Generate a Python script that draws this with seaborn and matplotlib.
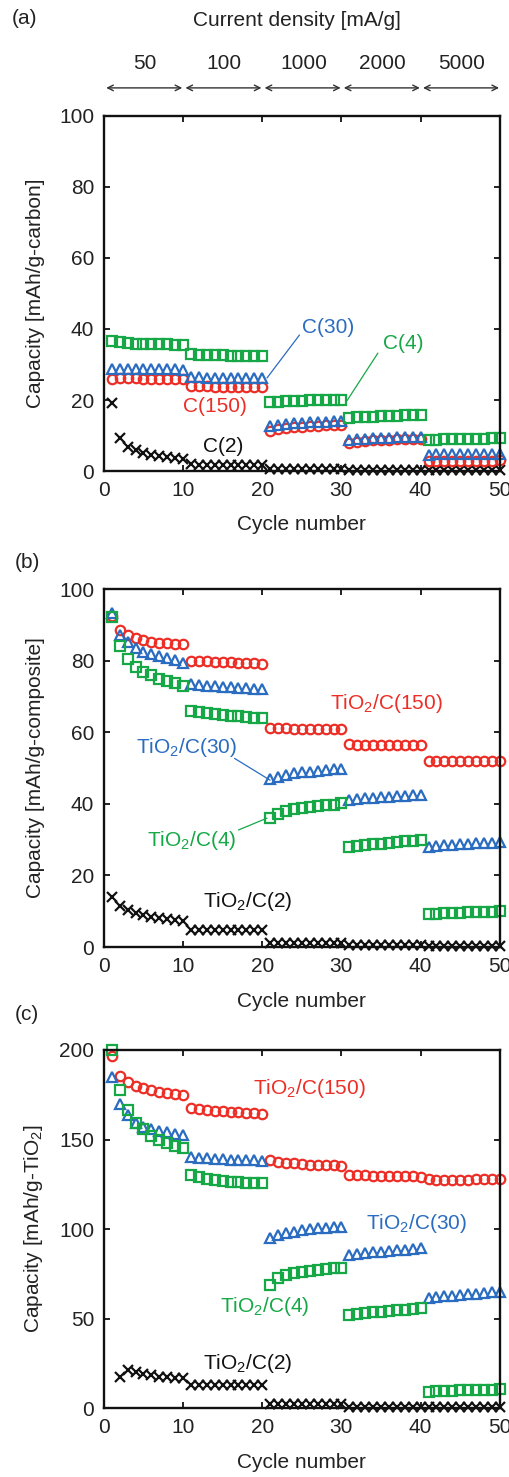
import numpy as np
import pandas as pd
import matplotlib
matplotlib.use("Agg")
import matplotlib.pyplot as plt
import seaborn as sns

# ------------------------------------------------------------
# data (capacity per cycle, cycles 1-50)
# ------------------------------------------------------------
cycles = list(range(1, 51))
rates = ["50", "100", "1000", "2000", "5000"]

# (a) mAh/g-carbon
a_c150 = [26.0, 26.1, 26.1, 26.1, 26.0, 26.0, 26.0, 26.0, 26.0, 26.0,
          24.0, 23.9, 23.9, 23.8, 23.8, 23.8, 23.8, 23.8, 23.8, 23.8,
          11.2, 11.8, 12.1, 12.3, 12.5, 12.6, 12.8, 12.9, 13.0, 13.1,
          8.0, 8.3, 8.5, 8.6, 8.7, 8.8, 8.9, 9.0, 9.0, 9.1,
          2.9, 2.9, 2.9, 2.9, 2.9, 2.9, 2.9, 2.9, 2.9, 3.0]
a_c30 = [28.6, 28.6, 28.6, 28.6, 28.6, 28.6, 28.6, 28.6, 28.6, 28.5,
         26.5, 26.4, 26.3, 26.3, 26.3, 26.2, 26.2, 26.2, 26.2, 26.2,
         12.7, 13.1, 13.3, 13.5, 13.6, 13.7, 13.8, 13.9, 14.0, 14.0,
         8.6, 8.9, 9.1, 9.2, 9.3, 9.4, 9.5, 9.6, 9.6, 9.7,
         4.6, 4.7, 4.7, 4.7, 4.8, 4.8, 4.8, 4.8, 4.8, 4.9]
a_c4 = [36.5, 36.2, 36.0, 35.9, 35.9, 35.8, 35.8, 35.7, 35.6, 35.5,
        33.0, 32.8, 32.7, 32.6, 32.6, 32.5, 32.5, 32.4, 32.4, 32.4,
        19.3, 19.5, 19.6, 19.7, 19.8, 19.9, 19.9, 20.0, 20.0, 20.1,
        14.9, 15.1, 15.2, 15.3, 15.4, 15.5, 15.6, 15.7, 15.8, 15.9,
        8.7, 8.8, 8.9, 8.9, 9.0, 9.0, 9.1, 9.1, 9.2, 9.3]
a_c2 = [19.2, 9.3, 6.8, 5.9, 5.2, 4.6, 4.3, 4.0, 3.7, 3.5,
        1.9, 1.8, 1.8, 1.7, 1.7, 1.7, 1.7, 1.7, 1.6, 1.6,
        0.6, 0.5, 0.5, 0.5, 0.5, 0.5, 0.5, 0.5, 0.5, 0.5,
        0.3, 0.3, 0.3, 0.3, 0.3, 0.3, 0.3, 0.3, 0.3, 0.3,
        0.3, 0.3, 0.3, 0.3, 0.3, 0.3, 0.3, 0.3, 0.3, 0.3]

# (b) mAh/g-composite
b_c150 = [92.5, 88.5, 87.2, 86.2, 85.8, 85.3, 85.0, 84.8, 84.7, 84.6,
          80.0, 79.9, 79.8, 79.7, 79.6, 79.5, 79.4, 79.3, 79.2, 79.1,
          61.2, 61.1, 61.1, 61.0, 61.0, 61.0, 60.9, 60.9, 60.9, 60.8,
          56.6, 56.5, 56.5, 56.5, 56.5, 56.5, 56.5, 56.5, 56.5, 56.5,
          52.0, 52.0, 52.0, 52.0, 52.0, 52.0, 52.0, 52.0, 52.0, 52.1]
b_c30 = [93.2, 87.2, 85.3, 83.4, 82.5, 81.8, 81.3, 80.6, 80.2, 79.4,
         73.5, 73.2, 73.0, 72.8, 72.6, 72.5, 72.4, 72.3, 72.2, 72.1,
         46.8, 47.6, 48.1, 48.5, 48.8, 49.0, 49.2, 49.4, 49.6, 49.7,
         41.1, 41.3, 41.5, 41.7, 41.8, 42.0, 42.1, 42.2, 42.4, 42.5,
         28.0, 28.2, 28.4, 28.5, 28.7, 28.8, 29.0, 29.1, 29.2, 29.4]
b_c4 = [92.1, 84.2, 80.4, 78.3, 76.9, 76.0, 75.0, 74.4, 73.7, 72.9,
        66.0, 65.6, 65.3, 65.0, 64.8, 64.6, 64.4, 64.2, 64.0, 63.9,
        36.1, 37.3, 38.0, 38.5, 38.8, 39.1, 39.4, 39.6, 39.8, 40.2,
        28.0, 28.3, 28.5, 28.7, 28.9, 29.1, 29.3, 29.5, 29.7, 29.9,
        9.2, 9.3, 9.4, 9.5, 9.6, 9.7, 9.8, 9.8, 9.9, 10.0]
b_c2 = [14.1, 11.5, 10.3, 9.6, 8.9, 8.3, 8.0, 7.7, 7.5, 7.2,
        4.9, 4.9, 4.8, 4.8, 4.8, 4.8, 4.8, 4.8, 4.8, 4.8,
        1.2, 1.1, 1.1, 1.0, 1.0, 1.0, 1.0, 1.0, 1.0, 1.0,
        0.5, 0.5, 0.5, 0.5, 0.5, 0.5, 0.5, 0.5, 0.5, 0.5,
        0.4, 0.4, 0.4, 0.4, 0.4, 0.4, 0.4, 0.4, 0.4, 0.4]

# (c) mAh/g-TiO2
c_c150 = [196.5, 185.5, 182.3, 179.9, 178.6, 177.7, 176.5, 175.8, 175.4, 175.0,
          167.4, 167.0, 166.6, 166.2, 165.8, 165.5, 165.2, 164.9, 164.6, 164.2,
          138.5, 137.5, 137.0, 136.6, 136.3, 136.0, 135.8, 135.6, 135.5, 135.4,
          130.2, 130.0, 129.9, 129.8, 129.7, 129.6, 129.5, 129.4, 129.4, 129.3,
          127.8, 127.4, 127.4, 127.4, 127.5, 127.6, 127.7, 127.8, 127.9, 128.0]
c_c30 = [184.7, 169.8, 163.7, 159.0, 157.2, 156.0, 155.0, 154.0, 153.0, 152.5,
         140.4, 139.8, 139.4, 139.1, 138.9, 138.7, 138.5, 138.4, 138.3, 138.2,
         94.8, 96.7, 97.8, 98.6, 99.3, 99.8, 100.3, 100.7, 101.0, 101.3,
         85.5, 86.0, 86.5, 87.0, 87.4, 87.8, 88.2, 88.5, 88.9, 89.2,
         61.3, 61.8, 62.3, 62.7, 63.1, 63.5, 63.9, 64.3, 64.7, 65.0]
c_c4 = [200.0, 177.7, 166.5, 159.4, 155.7, 152.0, 149.7, 148.2, 146.4, 145.0,
        130.2, 128.8, 127.9, 127.2, 126.7, 126.3, 126.0, 125.8, 125.6, 125.5,
        68.7, 72.4, 74.3, 75.6, 76.2, 76.8, 77.2, 77.6, 78.0, 78.2,
        52.0, 52.5, 53.0, 53.4, 53.8, 54.2, 54.6, 55.0, 55.3, 55.7,
        9.1, 9.4, 9.6, 9.7, 9.8, 9.9, 10.0, 10.1, 10.3, 10.4]
c_c2 = [np.nan, 17.5, 21.2, 20.0, 19.0, 18.2, 17.5, 17.2, 17.0, 16.5,
        12.8, 12.8, 12.7, 12.7, 12.7, 12.7, 12.7, 12.7, 12.7, 12.7,
        2.2, 2.1, 2.1, 2.0, 2.0, 2.0, 2.0, 2.0, 2.0, 2.0,
        0.8, 0.8, 0.8, 0.8, 0.8, 0.8, 0.8, 0.8, 0.8, 0.8,
        0.5, 0.5, 0.5, 0.5, 0.5, 0.5, 0.5, 0.5, 0.5, 0.5]

# ------------------------------------------------------------
# style
# ------------------------------------------------------------
sns.set_style("ticks")
plt.rcParams["font.family"] = ["Liberation Sans", "DejaVu Sans"]
plt.rcParams["mathtext.default"] = "regular"

RED = "#EC2E26"
BLUE = "#2A6CC0"
GREEN = "#16A847"
BLACK = "#111111"
TXT = "#222222"
FS = 15

# (color, marker, markersize) per series, drawn in this order
styles = {
    "c2": (BLACK, "x", 7.5),
    "c150": (RED, "o", 6.8),
    "c30": (BLUE, "^", 7.2),
    "c4": (GREEN, "s", 6.8),
}

fig = plt.figure(figsize=(5.09, 14.77), dpi=100)
L, W = 0.204, 0.778
ax_a = fig.add_axes([L, 0.6811, W, 0.2404])
ax_b = fig.add_axes([L, 0.3588, W, 0.2424])
ax_c = fig.add_axes([L, 0.0467, W, 0.2424])


def draw_series(ax, series):
    for key in ["c2", "c150", "c30", "c4"]:
        color, mk, ms = styles[key]
        df = pd.DataFrame({"cycle": cycles, "cap": series[key]}).dropna()
        face = color if mk == "x" else "none"
        sns.lineplot(data=df, x="cycle", y="cap", ax=ax, linestyle="",
                     marker=mk, markersize=ms, markeredgewidth=1.6,
                     color=color, markerfacecolor=face,
                     markeredgecolor=color)


def style_axes(ax, ymax, ystep, ylabel):
    ax.set_xlim(0, 50)
    ax.set_ylim(0, ymax)
    ax.set_xticks(range(0, 51, 10))
    ax.set_yticks(np.arange(0, ymax + 1, ystep))
    ax.tick_params(direction="in", top=True, right=True, length=4.5,
                   width=1.4, labelsize=FS, colors=TXT)
    ax.tick_params(axis="x", pad=7)
    ax.tick_params(axis="y", pad=7)
    for sp in ax.spines.values():
        sp.set_linewidth(1.7)
        sp.set_color("#111111")
    ax.set_xlabel("Cycle number", fontsize=FS, color=TXT)
    ax.set_ylabel(ylabel, fontsize=FS, color=TXT)
    ax.xaxis.set_label_coords(0.5, -0.125)
    ax.yaxis.set_label_coords(-0.148, 0.5)


# (a)
draw_series(ax_a, {"c150": a_c150, "c30": a_c30, "c4": a_c4, "c2": a_c2})
style_axes(ax_a, 100, 20, "Capacity [mAh/g-carbon]")
ax_a.text(28.3, 40.3, "C(30)", color=BLUE, fontsize=FS, ha="center", va="center")
ax_a.plot([20.6, 24.7], [26.2, 38.3], color=BLUE, lw=0.9)
ax_a.text(37.8, 36.0, "C(4)", color=GREEN, fontsize=FS, ha="center", va="center")
ax_a.plot([30.7, 34.6], [19.8, 33.2], color=GREEN, lw=0.9)
ax_a.text(14.0, 18.1, "C(150)", color=RED, fontsize=FS, ha="center", va="center")
ax_a.text(15.1, 6.9, "C(2)", color=BLACK, fontsize=FS, ha="center", va="center")

# current density arrows on top of (a)
trans = ax_a.get_xaxis_transform()
for i, r in enumerate(rates):
    ax_a.annotate("", xy=(10 * i + 9.9, 1.079), xytext=(10 * i + 0.3, 1.079),
                  xycoords=trans, textcoords=trans, annotation_clip=False,
                  arrowprops=dict(arrowstyle="<->", lw=1.0, color="#333333",
                                  shrinkA=0, shrinkB=0))
    ax_a.text(10 * i + 5.2, 1.149, r, transform=trans, ha="center",
              va="center", fontsize=FS, color=TXT)
ax_a.text(24.4, 1.27, "Current density [mA/g]", transform=trans, ha="center",
          va="center", fontsize=FS, color=TXT)

# (b)
draw_series(ax_b, {"c150": b_c150, "c30": b_c30, "c4": b_c4, "c2": b_c2})
style_axes(ax_b, 100, 20, "Capacity [mAh/g-composite]")
ax_b.text(35.7, 68.1, "TiO$_2$/C(150)", color=RED, fontsize=FS, ha="center", va="center")
ax_b.text(10.5, 55.6, "TiO$_2$/C(30)", color=BLUE, fontsize=FS, ha="center", va="center")
ax_b.plot([16.5, 21.0], [52.7, 46.6], color=BLUE, lw=0.9)
ax_b.text(11.1, 29.9, "TiO$_2$/C(4)", color=GREEN, fontsize=FS, ha="center", va="center")
ax_b.plot([17.0, 20.6], [32.7, 36.0], color=GREEN, lw=0.9)
ax_b.text(18.2, 12.7, "TiO$_2$/C(2)", color=BLACK, fontsize=FS, ha="center", va="center")

# (c)
draw_series(ax_c, {"c150": c_c150, "c30": c_c30, "c4": c_c4, "c2": c_c2})
style_axes(ax_c, 200, 50, "Capacity [mAh/g-TiO$_2$]")
ax_c.text(26.0, 178.6, "TiO$_2$/C(150)", color=RED, fontsize=FS, ha="center", va="center")
ax_c.text(39.5, 102.8, "TiO$_2$/C(30)", color=BLUE, fontsize=FS, ha="center", va="center")
ax_c.text(20.3, 56.6, "TiO$_2$/C(4)", color=GREEN, fontsize=FS, ha="center", va="center")
ax_c.text(18.2, 25.0, "TiO$_2$/C(2)", color=BLACK, fontsize=FS, ha="center", va="center")

for ax in (ax_a, ax_b, ax_c):
    for ln in ax.lines:
        ln.set_clip_on(False)

# panel letters
fig.text(0.049, 1 - 18 / 1477, "(a)", fontsize=FS, ha="center", va="center", color=TXT)
fig.text(0.053, 1 - 562 / 1477, "(b)", fontsize=FS, ha="center", va="center", color=TXT)
fig.text(0.053, 1 - 1015 / 1477, "(c)", fontsize=FS, ha="center", va="center", color=TXT)

fig.savefig("out.png", dpi=100)
